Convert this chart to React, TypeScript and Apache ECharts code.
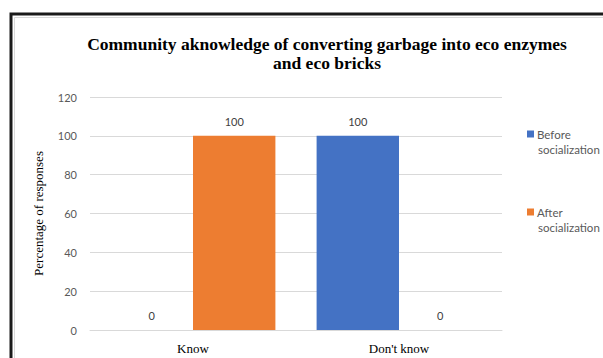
import React, { useEffect, useRef } from "react";
import * as echarts from "echarts";

const categories = ["Know", "Don't know"];
const beforeValues = [0, 100];
const afterValues = [100, 0];
const seriesNames = ["Before socialization", "After socialization"];
const yTicks = { min: 0, max: 120, interval: 20 };

export default function App() {
  const ref = useRef<HTMLDivElement>(null);

  useEffect(() => {
    document.body.style.margin = "0";
    if (!ref.current) return;
    const chart = echarts.init(ref.current, null, { renderer: "svg" });
    const sans = "Lato";
    const serif = "Liberation Serif";
    const legendText = { fontFamily: sans, fontSize: 11.5, fill: "#595959" };
    chart.setOption({
      animation: false,
      backgroundColor: "#ffffff",
      title: {
        text: "Community aknowledge of converting garbage into eco enzymes\nand eco bricks",
        left: 322,
        textAlign: "center",
        top: 29,
        textStyle: {
          fontFamily: serif,
          fontWeight: "bold",
          fontSize: 17.5,
          lineHeight: 19,
          color: "#000",
        },
      },
      graphic: [
        {
          type: "rect",
          shape: { x: 11, y: 14, width: 700, height: 400 },
          style: { fill: "none", stroke: "#1a1a1a", lineWidth: 3 },
        },
        {
          type: "rect",
          shape: { x: 14.5, y: 17.5, width: 700, height: 400 },
          style: { fill: "none", stroke: "#d9d9d9", lineWidth: 1 },
        },
        // second line of each wrapped legend name
        {
          type: "text",
          left: 538,
          top: 143,
          style: { text: seriesNames[0].split(" ")[1], ...legendText },
        },
        {
          type: "text",
          left: 538,
          top: 221,
          style: { text: seriesNames[1].split(" ")[1], ...legendText },
        },
      ],
      legend: {
        orient: "vertical",
        left: 522,
        top: 123,
        itemWidth: 7,
        itemHeight: 7,
        itemGap: 66,
        icon: "rect",
        data: seriesNames,
        formatter: (name: string) => name.split(" ")[0],
        textStyle: {
          fontFamily: sans,
          fontSize: 11.5,
          color: "#595959",
          padding: [0, 0, 0, -2],
        },
      },
      grid: { left: 90, right: 101, top: 97, bottom: 28 },
      xAxis: {
        type: "category",
        data: categories,
        axisLine: { lineStyle: { color: "#d9d9d9", width: 1 } },
        axisTick: { show: false },
        axisLabel: {
          fontFamily: serif,
          fontSize: 13,
          color: "#000",
          margin: 12,
        },
      },
      yAxis: {
        type: "value",
        min: yTicks.min,
        max: yTicks.max,
        interval: yTicks.interval,
        name: "Percentage of responses",
        nameLocation: "middle",
        nameGap: 45,
        nameTextStyle: { fontFamily: serif, fontSize: 13, color: "#000" },
        axisLine: { show: false },
        axisTick: { show: false },
        splitLine: { lineStyle: { color: "#d9d9d9", width: 1 } },
        axisLabel: { fontFamily: sans, fontSize: 11, color: "#595959", margin: 13 },
      },
      series: [
        {
          name: seriesNames[0],
          type: "bar",
          data: beforeValues,
          barGap: "0%",
          barCategoryGap: "20%",
          itemStyle: { color: "#4472C4" },
          label: {
            show: true,
            position: "top",
            distance: 9,
            fontFamily: sans,
            fontSize: 11,
            color: "#404040",
          },
        },
        {
          name: seriesNames[1],
          type: "bar",
          data: afterValues,
          barGap: "0%",
          barCategoryGap: "20%",
          itemStyle: { color: "#ED7D31" },
          label: {
            show: true,
            position: "top",
            distance: 9,
            fontFamily: sans,
            fontSize: 11,
            color: "#404040",
          },
        },
      ],
    });
    return () => chart.dispose();
  }, []);

  return <div ref={ref} style={{ width: 603, height: 358 }} />;
}
